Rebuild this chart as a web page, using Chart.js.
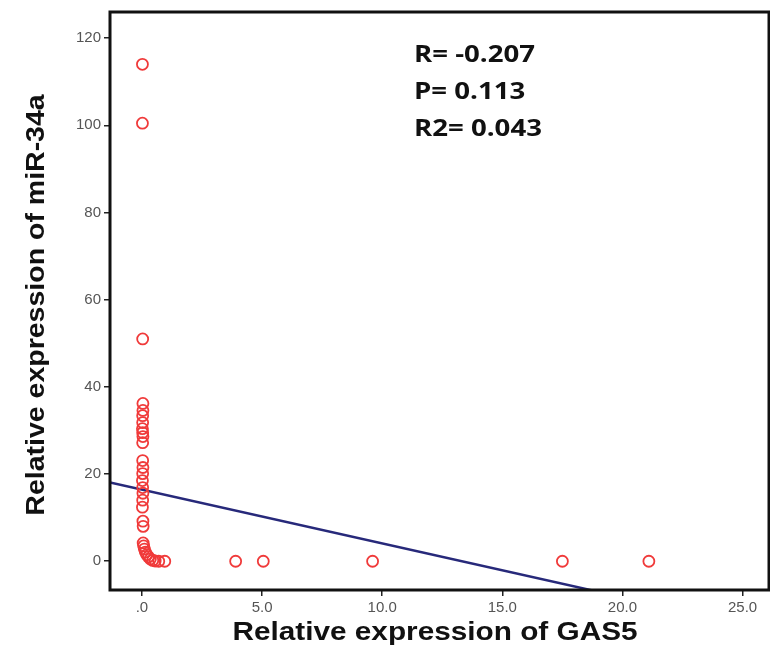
<!DOCTYPE html>
<html>
<head>
<meta charset="utf-8">
<script src="https://cdn.jsdelivr.net/npm/chart.js@4/dist/chart.umd.min.js"></script>
<style>
  html, body { margin: 0; padding: 0; background: #fff; overflow: hidden; }
  canvas { display: block; }
</style>
</head>
<body>
<canvas id="scatter" width="770" height="671"></canvas>
<script>
// nilai GAS5 (sumbu x) dan miR-34a (sumbu y)
const gas5 = [0.02, 0.02, 0.03, 0.04, 0.04, 0.03, 0.03, 0.02, 0.03, 0.04, 0.03,
              0.03, 0.04, 0.03, 0.02, 0.03, 0.04, 0.03, 0.02, 0.04, 0.05,
              0.05, 0.07, 0.10, 0.14, 0.20, 0.27, 0.35, 0.45, 0.55, 0.70, 0.95,
              3.9, 5.05, 9.6, 17.5, 21.1];
const mir34a = [114, 100.5, 51, 36.2, 34.6, 33.4, 31.8, 30.4, 29.5, 28.6, 27.2,
                23.1, 21.5, 20.1, 18.5, 16.9, 15.6, 14.0, 12.4, 9.2, 8.0,
                4.2, 3.5, 2.8, 2.1, 1.5, 1.0, 0.5, 0.2, 0.05, 0.0, 0.0,
                0, 0, 0, 0, 0];

// garis regresi
const fitIntercept = 16.45;
const fitSlope = -1.235;

// label sumbu
const xTicks = [0, 5, 10, 15, 20, 25];
const yTicks = [0, 20, 40, 60, 80, 100, 120];
const xRange = [-1.33, 26.1];
const yRange = [-6.6, 126];

const statLines = ['R= -0.207', 'P= 0.113', 'R2= 0.043'];
const xTitle = 'Relative expression of GAS5';
const yTitle = 'Relative expression of miR-34a';

const points = gas5.map((x, i) => ({ x: x, y: mir34a[i] }));
const fitPoints = xRange.map(x => ({ x: x, y: fitIntercept + fitSlope * x }));

// teks yang agak melebar seperti gambar asli
function wideText(ctx, text, x, y, font, stretch, align, rotate) {
    ctx.save();
    ctx.translate(x, y);
    if (rotate) ctx.rotate(rotate);
    ctx.scale(stretch, 1);
    ctx.font = font;
    ctx.fillStyle = '#111';
    ctx.textAlign = align;
    ctx.textBaseline = 'alphabetic';
    ctx.fillText(text, 0, 0);
    ctx.restore();
}

const framePlugin = {
    id: 'frame',
    afterDraw(chart) {
        const ctx = chart.ctx;
        const a = chart.chartArea;
        ctx.save();
        ctx.strokeStyle = '#111';
        ctx.lineWidth = 3;
        ctx.strokeRect(a.left, a.top, a.right - a.left, a.bottom - a.top);
        ctx.restore();

        // statistik
        statLines.forEach((t, i) => {
            wideText(ctx, t, 414, 62 + i * 37, 'bold 23px "Open Sans"', 1.2, 'left');
        });
        // judul sumbu
        wideText(ctx, xTitle, 435, 640, 'bold 25px "Liberation Sans"', 1.19, 'center');
        wideText(ctx, yTitle, 44, 305, 'bold 25px "Liberation Sans"', 1.14, 'center', -Math.PI / 2);
    }
};

new Chart(document.getElementById('scatter'), {
    type: 'scatter',
    data: {
        datasets: [
            {
                label: 'miR-34a',
                data: points,
                showLine: false,
                pointRadius: 5.5,
                pointHoverRadius: 5.5,
                pointBorderWidth: 1.8,
                borderColor: '#f03a3a',
                backgroundColor: 'rgba(0,0,0,0)'
            },
            {
                label: 'fit',
                type: 'line',
                data: fitPoints,
                borderColor: '#27297a',
                borderWidth: 2.5,
                pointRadius: 0,
                fill: false
            }
        ]
    },
    options: {
        responsive: false,
        animation: false,
        layout: { autoPadding: false, padding: { top: 9, right: 1, left: 0, bottom: 0 } },
        plugins: {
            legend: { display: false },
            tooltip: { enabled: false }
        },
        scales: {
            x: {
                type: 'linear',
                min: xRange[0],
                max: xRange[1],
                afterBuildTicks: s => { s.ticks = xTicks.map(v => ({ value: v })); },
                afterFit: s => { s.height = 81; },
                grid: { drawOnChartArea: false, drawTicks: true, tickLength: 6, color: '#222', lineWidth: 1.5 },
                border: { display: false },
                ticks: {
                    padding: 3,
                    color: '#555',
                    font: { family: 'Liberation Sans', size: 15 },
                    callback: v => v === 0 ? '.0' : v.toFixed(1)
                }
            },
            y: {
                type: 'linear',
                min: yRange[0],
                max: yRange[1],
                afterBuildTicks: s => { s.ticks = yTicks.map(v => ({ value: v })); },
                afterFit: s => { s.width = 110; },
                grid: { drawOnChartArea: false, drawTicks: true, tickLength: 6, color: '#222', lineWidth: 1.5 },
                border: { display: false },
                ticks: {
                    padding: 3,
                    color: '#555',
                    font: { family: 'Liberation Sans', size: 15 }
                }
            }
        }
    },
    plugins: [framePlugin]
});
</script>
</body>
</html>
